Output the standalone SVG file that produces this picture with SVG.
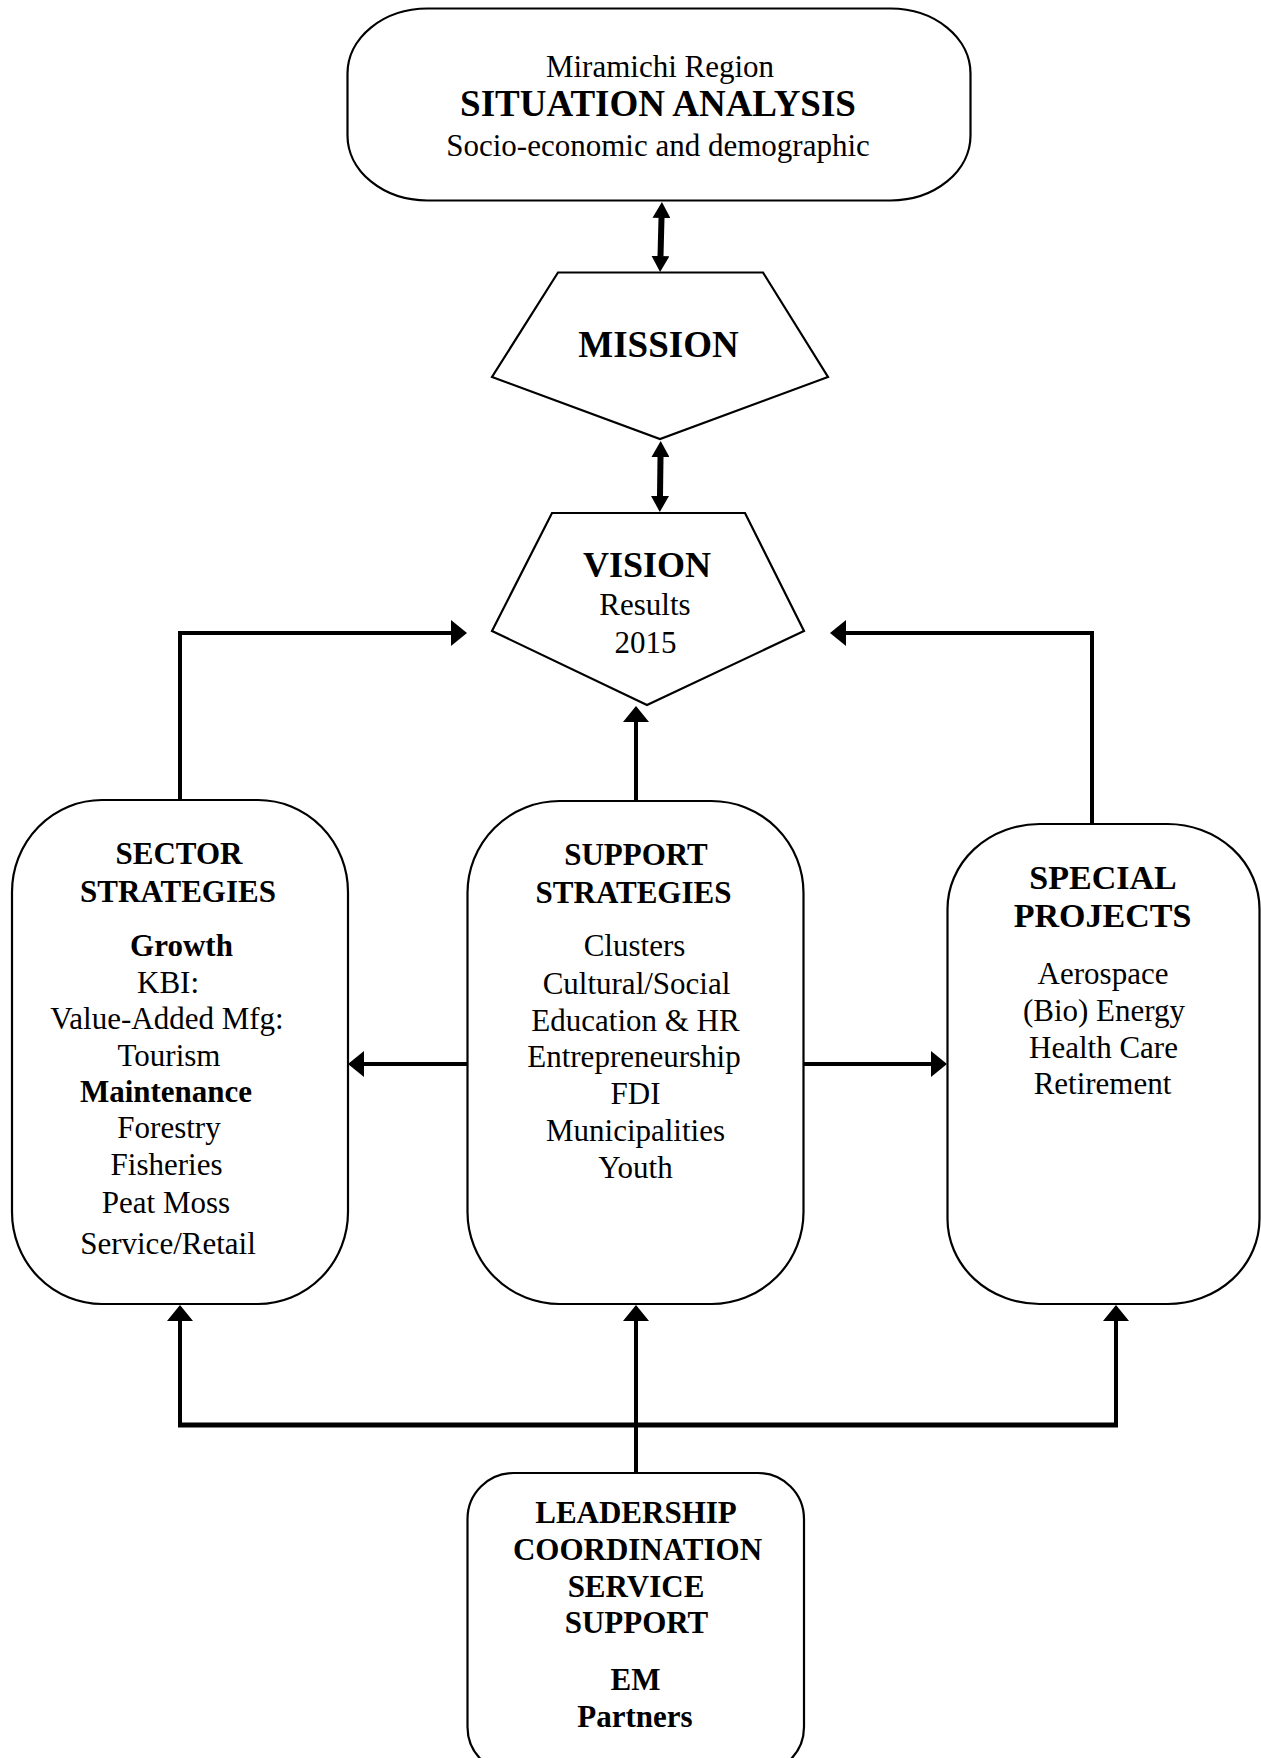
<svg xmlns="http://www.w3.org/2000/svg" width="1261" height="1758" viewBox="0 0 1261 1758">
<style>
.box{fill:#fff;stroke:#000;stroke-width:2.2}
.ln{fill:none;stroke:#000;stroke-width:4}
.dbl{fill:none;stroke:#000;stroke-width:6}
text{font-family:"Liberation Serif","Times New Roman",serif;fill:#000;text-anchor:middle}
.r{font-size:31px}
.b{font-size:31px;font-weight:bold}
.big{font-size:37px;font-weight:bold}
.sp{font-size:34px;font-weight:bold}
</style>
<defs>
<marker id="ah" viewBox="0 0 16 26" markerWidth="16" markerHeight="26" refX="0" refY="13" orient="auto" markerUnits="userSpaceOnUse"><path d="M0,0 L16,13 L0,26 z" fill="#000"/></marker>
<marker id="dh" viewBox="0 0 16 18" markerWidth="16" markerHeight="18" refX="0" refY="9" orient="auto-start-reverse" markerUnits="userSpaceOnUse"><path d="M0,0 L16,9 L0,18 z" fill="#000"/></marker>
</defs>

<g id="connectors">
<path class="dbl" d="M661.5,218 L660.5,256" marker-start="url(#dh)" marker-end="url(#dh)"/>
<path class="dbl" d="M660.5,457 L660,496" marker-start="url(#dh)" marker-end="url(#dh)"/>
<path class="ln" d="M180,800 L180,633 L451,633" marker-end="url(#ah)"/>
<path class="ln" d="M1092,824 L1092,633 L846,633" marker-end="url(#ah)"/>
<path class="ln" d="M636,800 L636,722" marker-end="url(#ah)"/>
<path class="ln" d="M467,1064 L364,1064" marker-end="url(#ah)"/>
<path class="ln" d="M804,1064 L931,1064" marker-end="url(#ah)"/>
<path class="ln" d="M636,1473 L636,1321" marker-end="url(#ah)"/>
<path class="ln" d="M180,1425 L180,1321" marker-end="url(#ah)"/>
<path class="ln" d="M1116,1425 L1116,1321" marker-end="url(#ah)"/>
<path class="ln" d="M178,1425 L1118,1425" style="stroke-width:5"/>
</g>

<g id="situation">
<rect class="box" x="347.5" y="8.5" width="623" height="192" rx="80" ry="65"/>
<text class="r" x="660" y="77">Miramichi Region</text>
<text class="big" x="658" y="116">SITUATION ANALYSIS</text>
<text class="r" x="658" y="156">Socio-economic and demographic</text>
</g>

<g id="mission">
<polygon class="box" points="558,272.5 763,272.5 828,377 660,439 492,377"/>
<text class="big" x="658.5" y="357">MISSION</text>
</g>

<g id="vision">
<polygon class="box" points="552,513 745,513 804,631 647,705 492,631"/>
<text style="font-size:36px;font-weight:bold" x="647" y="577">VISION</text>
<text class="r" x="645" y="615">Results</text>
<text class="r" x="645.5" y="653">2015</text>
</g>

<g id="sector">
<rect class="box" x="12" y="800" width="336" height="504" rx="90" ry="92"/>
<text class="b" x="179" y="864">SECTOR</text>
<text class="b" x="178" y="902">STRATEGIES</text>
<text class="b" x="181.5" y="956">Growth</text>
<text class="r" x="168" y="993">KBI:</text>
<text class="r" x="167" y="1029">Value-Added Mfg:</text>
<text class="r" x="169" y="1066">Tourism</text>
<text class="b" x="166" y="1102">Maintenance</text>
<text class="r" x="169" y="1138">Forestry</text>
<text class="r" x="166.5" y="1175">Fisheries</text>
<text class="r" x="166" y="1213">Peat Moss</text>
<text class="r" x="168" y="1254">Service/Retail</text>
</g>

<g id="support">
<rect class="box" x="467.5" y="801" width="336" height="503" rx="92" ry="92"/>
<text class="b" x="636" y="865">SUPPORT</text>
<text class="b" x="633.5" y="903">STRATEGIES</text>
<text class="r" x="634.5" y="956">Clusters</text>
<text class="r" x="636.5" y="994">Cultural/Social</text>
<text class="r" x="635.5" y="1031">Education &amp; HR</text>
<text class="r" x="634" y="1067">Entrepreneurship</text>
<text class="r" x="635.5" y="1104">FDI</text>
<text class="r" x="635.5" y="1141">Municipalities</text>
<text class="r" x="635.5" y="1178">Youth</text>
</g>

<g id="special">
<rect class="box" x="947.5" y="824" width="312" height="480" rx="92" ry="85"/>
<text class="sp" x="1103" y="889">SPECIAL</text>
<text class="sp" x="1102.5" y="927">PROJECTS</text>
<text class="r" x="1103" y="984">Aerospace</text>
<text class="r" x="1104" y="1021">(Bio) Energy</text>
<text class="r" x="1103.5" y="1058">Health Care</text>
<text class="r" x="1102.5" y="1094">Retirement</text>
</g>

<g id="leadership">
<rect class="box" x="467.5" y="1473" width="336.5" height="300" rx="46" ry="46"/>
<text class="b" x="636" y="1523">LEADERSHIP</text>
<text class="b" x="637.5" y="1560">COORDINATION</text>
<text class="b" x="636" y="1597">SERVICE</text>
<text class="b" x="636.5" y="1633">SUPPORT</text>
<text class="b" x="635.5" y="1690">EM</text>
<text class="b" x="635" y="1727">Partners</text>
</g>
</svg>
